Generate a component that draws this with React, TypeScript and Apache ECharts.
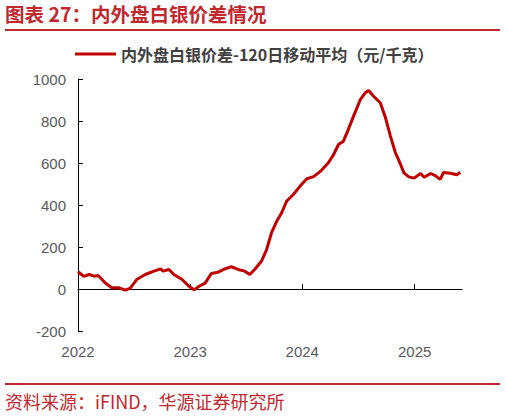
import React, { useEffect, useRef } from "react";
import * as echarts from "echarts";

const TITLE = "图表 27：内外盘白银价差情况";
const SERIES_NAME = "内外盘白银价差-120日移动平均（元/千克）";
const SOURCE = "资料来源：iFIND，华源证券研究所";
const YEARS = [2022, 2023, 2024, 2025];
const X_MIN = "2022-01-01";
const X_MAX = "2025-06-04";
const Y_MIN = -200;
const Y_MAX = 1000;
const Y_STEP = 200;

const dates = [
  "2022-01-01", "2022-01-20", "2022-02-06", "2022-02-22", "2022-03-08", "2022-03-30",
  "2022-04-21", "2022-05-13", "2022-06-04", "2022-06-20", "2022-07-11", "2022-08-08",
  "2022-09-05", "2022-09-27", "2022-10-05", "2022-10-24", "2022-11-09", "2022-12-06",
  "2022-12-28", "2023-01-14", "2023-01-30", "2023-02-19", "2023-03-11", "2023-04-02",
  "2023-04-24", "2023-05-15", "2023-06-06", "2023-06-28", "2023-07-14", "2023-07-30",
  "2023-08-21", "2023-09-07", "2023-09-23", "2023-10-10", "2023-10-26", "2023-11-11",
  "2023-12-03", "2023-12-25", "2024-01-16", "2024-02-07", "2024-02-29", "2024-03-26",
  "2024-04-12", "2024-04-28", "2024-05-14", "2024-05-30", "2024-06-16", "2024-07-08",
  "2024-07-24", "2024-08-04", "2024-08-20", "2024-09-11", "2024-09-28", "2024-10-14",
  "2024-10-30", "2024-11-16", "2024-11-27", "2024-12-13", "2024-12-30", "2025-01-20",
  "2025-02-01", "2025-02-22", "2025-03-09", "2025-03-25", "2025-04-05", "2025-04-27",
  "2025-05-18", "2025-05-29",
];

const values = [
  82, 60, 69, 61, 64, 30,
  6, 6, -5, 4, 45, 69,
  85, 96, 85, 93, 69, 45,
  13, -4, 13, 28, 74, 80,
  96, 106, 93, 85, 69, 93,
  132, 188, 268, 323, 363, 418,
  450, 490, 525, 535, 560, 601,
  640, 688, 704, 760, 823, 902,
  934, 945, 918, 887, 815, 728,
  650, 593, 553, 534, 528, 550,
  532, 550, 540, 522, 555, 551,
  544, 556,
];

const RED = "#C00000";
const TITLE_RED = "#C0282E";
const GRAY = "#595959";

function ts(d: string): number {
  const [y, m, day] = d.split("-").map(Number);
  return new Date(y, m - 1, day).getTime();
}

export default function App() {
  const ref = useRef<HTMLDivElement>(null);

  useEffect(() => {
    if (!ref.current) return;
    const chart = echarts.init(ref.current, null, { renderer: "svg" });
    const yearTicks = YEARS.map((y) => new Date(y, 0, 1).getTime());
    const seriesData = dates.map((d, i) => [ts(d), values[i]]);
    const xMin = ts(X_MIN);
    const xMax = ts(X_MAX);

    chart.setOption({
      animation: false,
      backgroundColor: "#ffffff",
      grid: { left: 78, right: 44, top: 79, bottom: 86, containLabel: false },
      legend: {
        data: [SERIES_NAME],
        left: 70,
        top: 41,
        icon: "rect",
        itemWidth: 41,
        itemHeight: 3,
        itemGap: 5,
        textStyle: {
          fontSize: 16,
          fontWeight: "bold",
          color: "#404040",
          fontFamily: "Noto Sans CJK SC",
        },
      },
      xAxis: [
        {
          type: "value",
          min: xMin,
          max: xMax,
          axisLine: { show: true, onZero: true, lineStyle: { color: "#000000", width: 1 } },
          axisTick: {
            show: true,
            inside: true,
            length: 5,
            customValues: yearTicks,
            lineStyle: { color: "#000000", width: 1 },
          },
          axisLabel: { show: false },
          splitLine: { show: false },
        },
        {
          type: "value",
          position: "bottom",
          min: xMin,
          max: xMax,
          axisLine: { show: false, onZero: false },
          axisTick: { show: false },
          axisLabel: {
            show: true,
            customValues: yearTicks,
            margin: 13,
            color: GRAY,
            fontSize: 15,
            fontFamily: "Liberation Sans",
            formatter: (v: number) => String(new Date(v).getFullYear()),
          },
          splitLine: { show: false },
        },
      ],
      yAxis: {
        type: "value",
        min: Y_MIN,
        max: Y_MAX,
        interval: Y_STEP,
        axisLine: { show: true, lineStyle: { color: "#000000", width: 1 } },
        axisTick: { show: true, inside: true, length: 5, lineStyle: { color: "#000000" } },
        axisLabel: {
          margin: 12,
          color: GRAY,
          fontSize: 15,
          fontFamily: "Liberation Sans",
          formatter: (v: number) => String(v),
        },
        splitLine: { show: false },
      },
      series: [
        {
          name: SERIES_NAME,
          type: "line",
          xAxisIndex: 0,
          yAxisIndex: 0,
          data: seriesData,
          showSymbol: false,
          symbol: "none",
          lineStyle: { color: RED, width: 3 },
          itemStyle: { color: RED },
        },
      ],
      graphic: [
        {
          type: "text",
          left: 5,
          top: 4,
          style: {
            text: TITLE,
            fill: TITLE_RED,
            fontSize: 19.5,
            fontWeight: "bold",
            fontFamily: "Noto Sans CJK SC",
          },
        },
        {
          type: "line",
          shape: { x1: 5, y1: 30, x2: 500, y2: 30 },
          style: { stroke: TITLE_RED, lineWidth: 2 },
        },
        {
          type: "line",
          shape: { x1: 5, y1: 384, x2: 500, y2: 384 },
          style: { stroke: TITLE_RED, lineWidth: 2 },
        },
        {
          type: "text",
          left: 5,
          top: 392,
          style: {
            text: SOURCE,
            fill: TITLE_RED,
            fontSize: 18,
            fontFamily: "Noto Sans CJK SC",
          },
        },
      ],
    });

    return () => chart.dispose();
  }, []);

  return (
    <div
      ref={ref}
      style={{ position: "absolute", left: 0, top: 0, width: 506, height: 417, background: "#fff" }}
    />
  );
}
